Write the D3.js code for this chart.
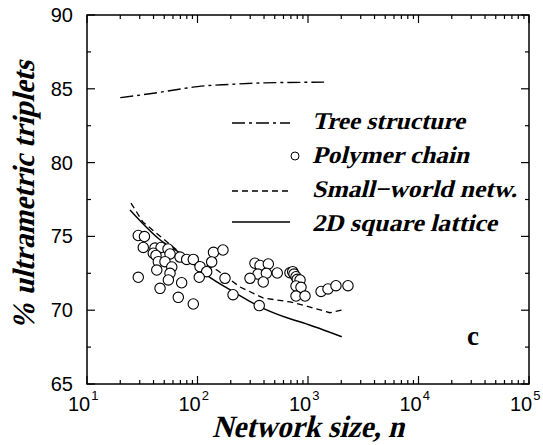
<!DOCTYPE html>
<html><head><meta charset="utf-8">
<script src="https://cdn.jsdelivr.net/npm/d3@7"></script>
<style>body{margin:0;background:#fff}svg{display:block}</style>
</head><body>
<svg id="c" width="543" height="445"></svg>
<script>
const treeN = [20, 40, 80, 100, 200, 400, 1400];
const treeV = [84.4, 84.7, 85.05, 85.15, 85.3, 85.4, 85.45];
const swN = [25, 32, 70, 150, 243, 392, 687, 900, 1580, 2030];
const swV = [77.26, 75.98, 73.88, 72.72, 71.57, 70.83, 70.56, 70.35, 69.83, 70.01];
const latN = [24.5, 46, 70, 121, 211, 368, 687, 900, 2020];
const latV = [76.79, 74.76, 73.86, 72.38, 71.25, 70.23, 69.42, 69.15, 68.2];
const polyN = [29.1, 33.1, 32.3, 41.2, 46.8, 54.1, 39.8, 42.1, 56.4, 69.5, 44.2, 50.8, 79.8, 91.6,
  139.6, 170, 134.4, 105.4, 121.1, 42.8, 58.5, 56.4, 54.5, 29.1, 45.8, 71.9, 67.0, 91.6, 103.7,
  177.4, 209.6, 362, 331, 368, 437.5, 353, 420, 298.5, 393.6, 527, 687, 727, 747, 779, 800, 847,
  779, 864, 779, 940, 1313, 1517, 1791, 2300];
const polyV = [75.06, 74.99, 74.25, 74.21, 74.25, 74.15, 73.86, 73.71, 73.81, 73.60, 73.29, 73.29, 73.44, 73.44,
  73.92, 74.08, 73.27, 72.95, 72.61, 72.72, 72.93, 72.50, 72.05, 72.23, 71.48, 71.86, 70.87, 70.42, 72.23,
  72.16, 71.05, 70.31, 73.18, 73.03, 73.13, 72.45, 72.50, 72.16, 71.91, 72.52, 72.54, 72.61, 72.45, 72.27, 72.09, 72.05,
  71.64, 71.55, 70.96, 70.96, 71.27, 71.44, 71.66, 71.66];
const xTickExp = [1, 2, 3, 4, 5];
const yTicks = [65, 70, 75, 80, 85, 90];
const legendLabels = ["Tree structure", "Polymer chain", "Small\u2212world netw.", "2D square lattice"];
const xTitle = "Network size, n";
const yTitle = "% ultrametric triplets";
const panelLabel = "c";

const L = 87, R = 529, T = 15, B = 384;
const svg = d3.select("#c");
const x = d3.scaleLog().domain([10, 1e5]).range([L, R]);
const y = d3.scaleLinear().domain([65, 90]).range([B, T]);

svg.append("rect").attr("x", L).attr("y", T).attr("width", R - L).attr("height", B - T)
  .attr("fill", "none").attr("stroke", "#000").attr("stroke-width", 1.5);

const xMinor = [];
for (let e = 1; e < 5; e++) for (let m = 2; m <= 9; m++) xMinor.push(m * Math.pow(10, e));
const xMajor = xTickExp.map(e => Math.pow(10, e));
const yMinor = [67.5, 72.5, 77.5, 82.5, 87.5];
const tg = svg.append("g").attr("stroke", "#000").attr("stroke-width", 1.2);
const addX = (vals, len) => vals.forEach(v => {
  const px = x(v);
  tg.append("line").attr("x1", px).attr("x2", px).attr("y1", B).attr("y2", B - len);
  tg.append("line").attr("x1", px).attr("x2", px).attr("y1", T).attr("y2", T + len);
});
const addY = (vals, len) => vals.forEach(v => {
  const py = y(v);
  tg.append("line").attr("x1", L).attr("x2", L + len).attr("y1", py).attr("y2", py);
  tg.append("line").attr("x1", R).attr("x2", R - len).attr("y1", py).attr("y2", py);
});
addX(xMajor, 8); addX(xMinor, 4);
addY(yTicks, 8); addY(yMinor, 4);

yTicks.forEach(v => {
  svg.append("text").style("font-family", "'Liberation Sans'").attr("x", 73).attr("y", y(v) + 7)
    .attr("text-anchor", "end").attr("font-size", 20).text(v);
});
xTickExp.forEach(e => {
  const px = x(Math.pow(10, e));
  const t = svg.append("text").style("font-family", "'Liberation Sans'")
    .attr("x", px - 19).attr("y", 411).attr("font-size", 20);
  t.append("tspan").text("10");
  t.append("tspan").attr("dy", -11).attr("dx", 1).attr("font-size", 13).text(e);
});

// bold serif, slanted (italic face is not available, so skew the bold face)
function serifText(transform, str, size, len, anchor) {
  const g = svg.append("g").attr("transform", transform + " skewX(-14)");
  const t = g.append("text").style("font-family", "'Liberation Serif'").attr("font-weight", "bold")
    .attr("x", 0).attr("y", 0).attr("font-size", size).attr("text-anchor", anchor || "start").text(str);
  if (len) t.attr("textLength", len).attr("lengthAdjust", "spacingAndGlyphs");
  return t;
}
serifText("translate(212,437)", xTitle, 31, 192);
serifText("translate(34,196) rotate(-90)", yTitle, 31, 270, "middle");

const zip = (a, b) => a.map((v, i) => [v, b[i]]);
const line = d3.line().x(d => x(d[0])).y(d => y(d[1]));
const sline = d3.line().x(d => x(d[0])).y(d => y(d[1])).curve(d3.curveMonotoneX);
svg.append("path").datum(zip(treeN, treeV)).attr("d", sline).attr("fill", "none")
  .attr("stroke", "#000").attr("stroke-width", 1.4).attr("stroke-dasharray", "13,4,3,4");
svg.append("path").datum(zip(swN, swV)).attr("d", line).attr("fill", "none")
  .attr("stroke", "#000").attr("stroke-width", 1.3).attr("stroke-dasharray", "6,4");
svg.append("path").datum(zip(latN, latV)).attr("d", sline).attr("fill", "none")
  .attr("stroke", "#000").attr("stroke-width", 1.4);

svg.append("g").selectAll("circle").data(zip(polyN, polyV)).join("circle")
  .attr("cx", d => x(d[0])).attr("cy", d => y(d[1])).attr("r", 5.2)
  .attr("fill", "#fff").attr("stroke", "#000").attr("stroke-width", 1.1);

const lg = svg.append("g");
const rowsY = [123, 156, 191, 222];
const textY = [129, 163, 197, 231];
const textW = [153, 157, 205, 185];
lg.append("line").attr("x1", 232).attr("x2", 290).attr("y1", rowsY[0]).attr("y2", rowsY[0])
  .attr("stroke", "#000").attr("stroke-width", 1.4).attr("stroke-dasharray", "13,4,3,4");
lg.append("circle").attr("cx", 295).attr("cy", rowsY[1]).attr("r", 4)
  .attr("fill", "#fff").attr("stroke", "#000").attr("stroke-width", 1);
lg.append("line").attr("x1", 232).attr("x2", 290).attr("y1", rowsY[2]).attr("y2", rowsY[2])
  .attr("stroke", "#000").attr("stroke-width", 1.3).attr("stroke-dasharray", "6,4");
lg.append("line").attr("x1", 232).attr("x2", 290).attr("y1", rowsY[3]).attr("y2", rowsY[3])
  .attr("stroke", "#000").attr("stroke-width", 1.4);
legendLabels.forEach((t, i) => {
  serifText(`translate(312,${textY[i]})`, t, 24, textW[i]);
});

svg.append("text").style("font-family", "'Liberation Serif'").attr("font-weight", "bold")
  .attr("x", 467).attr("y", 345).attr("font-size", 27).text(panelLabel);
</script>
</body></html>
